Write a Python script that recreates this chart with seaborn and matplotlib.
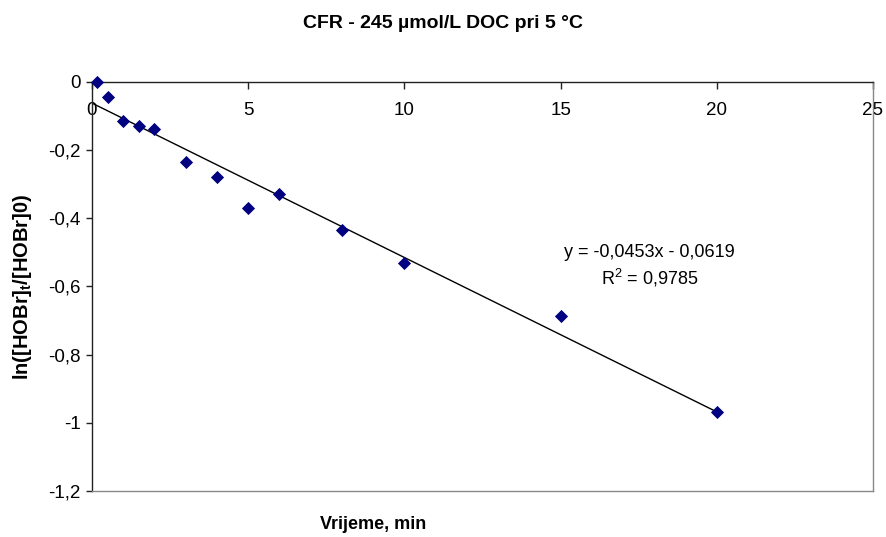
import numpy as np
import pandas as pd
import matplotlib
matplotlib.use("Agg")
import matplotlib.pyplot as plt
import seaborn as sns
from matplotlib.ticker import FuncFormatter

# data
time_min = [0.17, 0.5, 1.0, 1.5, 2.0, 3.0, 4.0, 5.0, 6.0, 8.0, 10.0, 15.0, 20.0]
ln_ratio = [0.0, -0.044, -0.114, -0.129, -0.138, -0.235, -0.279, -0.370, -0.328,
            -0.434, -0.531, -0.686, -0.968]
slope = -0.0453
intercept = -0.0619
x_ticks = [0, 5, 10, 15, 20, 25]
y_ticks = [0, -0.2, -0.4, -0.6, -0.8, -1.0, -1.2]

df = pd.DataFrame({"t": time_min, "ln": ln_ratio})
trend_x = np.array([0, max(time_min)])
trend = pd.DataFrame({"t": trend_x, "ln": slope * trend_x + intercept})

sns.set_style("white")
plt.rcParams["font.family"] = ["Liberation Sans", "DejaVu Sans"]
plt.rcParams["mathtext.fontset"] = "custom"
plt.rcParams["mathtext.bf"] = "Liberation Sans:bold"
plt.rcParams["mathtext.rm"] = "Liberation Sans"
plt.rcParams["text.color"] = "black"
plt.rcParams["axes.labelcolor"] = "black"
plt.rcParams["xtick.color"] = "black"
plt.rcParams["ytick.color"] = "black"

fig = plt.figure(figsize=(8.86, 5.37), dpi=100)
ax = fig.add_axes([0.1038, 0.0857, 0.8815, 0.7616])

sns.lineplot(data=trend, x="t", y="ln", color="black", linewidth=1, ax=ax)
sns.scatterplot(data=df, x="t", y="ln", marker="D", s=45, color="#000080",
                edgecolor="#000080", linewidth=0, ax=ax, zorder=3, clip_on=False)

ax.set_xlim(0, 25)
ax.set_ylim(-1.2, 0)
ax.set_xticks(x_ticks)
ax.set_yticks(y_ticks)
comma = FuncFormatter(lambda v, p: ("%g" % round(v, 2)).replace(".", ","))
ax.xaxis.set_major_formatter(comma)
ax.yaxis.set_major_formatter(comma)

for side in ["left", "top"]:
    ax.spines[side].set_color("#222222")
    ax.spines[side].set_linewidth(1)
for side in ["right", "bottom"]:
    ax.spines[side].set_color("#888888")
    ax.spines[side].set_linewidth(1)

ax.tick_params(axis="x", top=True, bottom=False, labeltop=True, labelbottom=False,
               direction="in", length=5, width=1, color="#222222", pad=-27,
               labelsize=13.5)
ax.tick_params(axis="y", left=True, direction="out", length=4, width=1,
               color="#222222", labelsize=13.5, pad=4)

ax.set_xlabel("")
ax.set_ylabel(r"ln([HOBr]$_\mathbf{t}$/[HOBr]0)", fontsize=14.5, fontweight="bold")
ax.yaxis.set_label_coords(-0.074, 0.5)
fig.text(0.421, 0.023, "Vrijeme, min", ha="center", va="center",
         fontsize=13, fontweight="bold")
fig.text(0.5, 0.956, "CFR - 245 µmol/L DOC pri 5 °C", ha="center", va="center",
         fontsize=14, fontweight="bold")

ax.text(0.714, 0.582, "y = -0,0453x - 0,0619", transform=ax.transAxes,
        ha="center", va="center", fontsize=13)
ax.text(0.714, 0.521, "R$^2$ = 0,9785", transform=ax.transAxes,
        ha="center", va="center", fontsize=13)

fig.savefig("out.png", dpi=100)
